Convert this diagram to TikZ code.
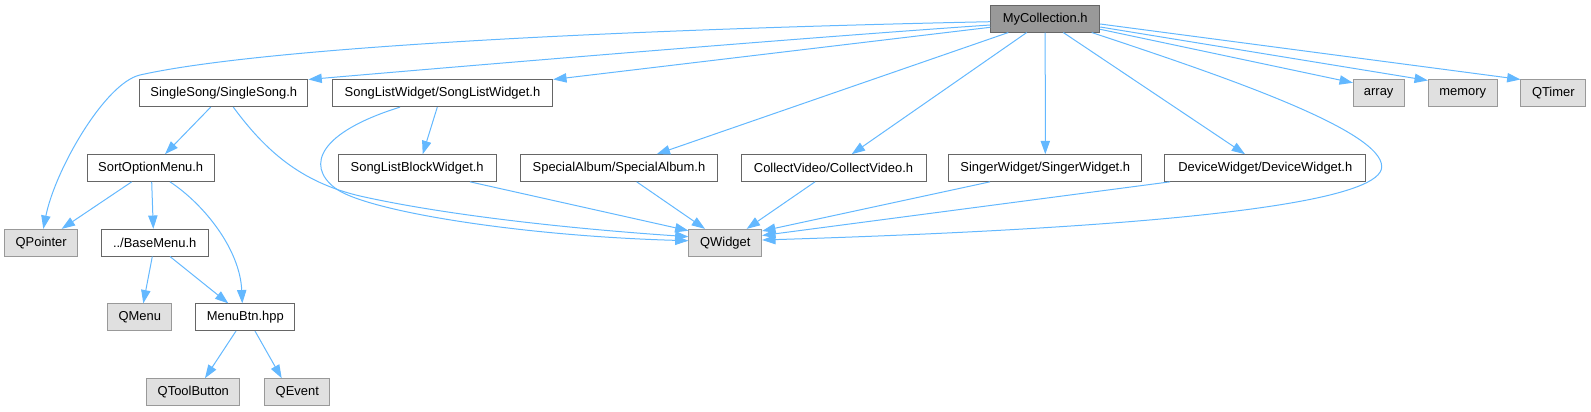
\documentclass[tikz,border=0pt]{standalone}
\usepackage{fontspec}
\setmainfont{Liberation Sans}
\usetikzlibrary{arrows.meta,calc}
\definecolor{edgeblue}{HTML}{63B8FF}
\definecolor{nodeborder}{HTML}{666666}
\definecolor{grayborder}{HTML}{999999}
\definecolor{grayfill}{HTML}{E0E0E0}
\definecolor{rootfill}{HTML}{999999}
\begin{document}
\begin{tikzpicture}[x=0.75pt,y=-0.75pt,
  base/.style={rectangle, inner sep=0pt, minimum height=20pt, line width=0.75pt,
    font=\fontsize{9.7}{11}\selectfont, text=black, anchor=center},
  wnode/.style={base, draw=nodeborder, fill=white},
  gnode/.style={base, draw=grayborder, fill=grayfill},
  rnode/.style={base, draw=nodeborder, fill=rootfill},
  wd/.style={minimum width=#1*0.75pt},
  edge/.style={draw=edgeblue, line width=0.75pt, -{Triangle[length=10pt,width=7pt]}}]
\useasboundingbox (0,0) rectangle (1591,411);

% nodes
\node[rnode, wd=109]   (root)    at (1045.2,18.7)  {MyCollection.h};
\node[wnode, wd=168.3] (ss)      at (223.8,93.3)   {SingleSong/SingleSong.h};
\node[wnode, wd=220.4] (slw)     at (442.5,93.3)   {SongListWidget/SongListWidget.h};
\node[gnode, wd=50.7]  (array)   at (1378.7,93.3)  {array};
\node[gnode, wd=68.7]  (memory)  at (1462.7,93.3)  {memory};
\node[gnode, wd=64.7]  (qtimer)  at (1553.3,93.3)  {QTimer};
\node[wnode, wd=126.7] (som)     at (150.7,168)    {SortOptionMenu.h};
\node[wnode, wd=157.7] (slbw)    at (417.2,168)    {SongListBlockWidget.h};
\node[wnode, wd=196.7] (sa)      at (619,168)      {SpecialAlbum/SpecialAlbum.h};
\node[wnode, wd=185]   (cv)      at (833.5,168)    {CollectVideo/CollectVideo.h};
\node[wnode, wd=192.7] (sw)      at (1045.3,168)   {SingerWidget/SingerWidget.h};
\node[wnode, wd=200.7] (dw)      at (1265.3,168)   {DeviceWidget/DeviceWidget.h};
\node[gnode, wd=73]    (qpointer) at (41.2,242.7)  {QPointer};
\node[wnode, wd=106.7] (bm)      at (154.7,242.7)  {../BaseMenu.h};
\node[gnode, wd=72.7]  (qwidget) at (725.3,242.7)  {QWidget};
\node[gnode, wd=63.7]  (qmenu)   at (139.8,317.2)  {QMenu};
\node[wnode, wd=98.7]  (mb)      at (245.3,317.2)  {MenuBtn.hpp};
\node[gnode, wd=93.3]  (qtb)     at (193.3,392)    {QToolButton};
\node[gnode, wd=65.3]  (qevent)  at (297.3,392)    {QEvent};

% edges from root
\draw[edge] ($(root.west)+(0,3)$) .. controls (600,30) and (260,48) .. (140,75)
  .. controls (105,83) and (55,170) .. ($(qpointer.north)+(2.1,0)$);
\draw[edge] ($(root.west)+(0,6.3)$) .. controls (800,38) and (500,63) .. (ss.north east);
\draw[edge] ($(root.west)+(0,8.6)$) -- (slw.north east);
\draw[edge] ($(root.south)+(-36.9,0)$) -- ($(sa.north)+(37.7,0)$);
\draw[edge] ($(root.south)+(-18.5,0)$) -- ($(cv.north)+(18.2,0)$);
\draw[edge] (root.south) -- (sw.north);
\draw[edge] ($(root.south)+(18.1,0)$) -- ($(dw.north)+(-20.3,0)$);
\draw[edge] ($(root.south)+(46.5,0)$) .. controls (1220,75) and (1382,130) .. (1381.7,166.7)
  .. controls (1382,195) and (1250,225) .. ($(qwidget.east)+(0,-2.7)$);
\draw[edge] ($(root.east)+(0,10.6)$) -- ($(array.north west)+(0,3.3)$);
\draw[edge] ($(root.east)+(0,8.3)$) -- ($(memory.north west)+(0,1)$);
\draw[edge] ($(root.east)+(0,5.3)$) -- (qtimer.north west);

% SingleSong
\draw[edge] ($(ss.south)+(-13.1,0)$) -- ($(som.north)+(14.3,0)$);
\draw[edge] ($(ss.south)+(9.5,0)$) .. controls (265,150) and (300,182) .. (360,196)
  .. controls (440,214) and (560,228) .. ($(qwidget.west)+(0,-6)$);

% SongListWidget
\draw[edge] ($(slw.south)+(-42.5,0)$) .. controls (320,132) and (305,165) .. (335,188)
  .. controls (365,211) and (520,236) .. ($(qwidget.west)+(0,-2)$);
\draw[edge] ($(slw.south)+(-5.2,0)$) -- ($(slbw.north)+(5.5,0)$);

% to QWidget
\draw[edge] ($(slbw.south)+(52.8,0)$) -- ($(qwidget.west)+(0,-12)$);
\draw[edge] ($(sa.south)+(17.7,0)$) -- ($(qwidget.north)+(-20.3,0)$);
\draw[edge] ($(cv.south)+(-18.5,0)$) -- ($(qwidget.north)+(21.4,0)$);
\draw[edge] ($(sw.south)+(-55.3,0)$) -- ($(qwidget.east)+(0,-11.7)$);
\draw[edge] ($(dw.south)+(-95.3,0)$) -- ($(qwidget.east)+(0,-7.2)$);

% SortOptionMenu
\draw[edge] ($(som.south)+(-19,0)$) -- ($(qpointer.north)+(20.5,0)$);
\draw[edge] ($(som.south)+(1,0)$) -- ($(bm.north)+(-1.4,0)$);
\draw[edge] ($(som.south)+(19.3,0)$) .. controls (205,205) and (240,250) .. ($(mb.north)+(-3,0)$);

% BaseMenu
\draw[edge] ($(bm.south)+(-2.4,0)$) -- ($(qmenu.north)+(3.5,0)$);
\draw[edge] ($(bm.south)+(15.3,0)$) -- ($(mb.north)+(-17,0)$);

% MenuBtn
\draw[edge] ($(mb.south)+(-9.3,0)$) -- ($(qtb.north)+(11.7,0)$);
\draw[edge] ($(mb.south)+(9.7,0)$) -- ($(qevent.north)+(-15.6,0)$);
\end{tikzpicture}
\end{document}
